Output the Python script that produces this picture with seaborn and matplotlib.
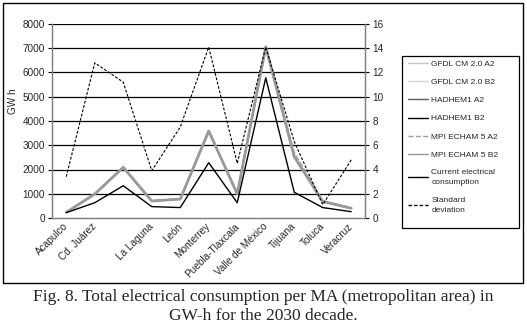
import matplotlib
matplotlib.use("Agg")
import matplotlib.pyplot as plt
import seaborn as sns
from matplotlib.patches import Rectangle
from matplotlib.lines import Line2D

sns.set_style("white")
plt.rcParams['font.family'] = ['Liberation Sans', 'DejaVu Sans']

# ---------------- data ----------------
cities = ["Acapulco", "Cd. Juárez", "", "La Laguna", "León", "Monterrey",
          "Puebla-Tlaxcala", "Valle de México", "Tijuana", "Toluca", "Veracruz"]

gfdl_a2 = [230, 990, 2090, 700, 780, 3590, 990, 7060, 2530, 680, 400]
gfdl_b2 = [225, 970, 2070, 690, 770, 3560, 980, 7000, 2600, 660, 390]
hadhem1_a2 = [235, 985, 2080, 705, 785, 3580, 1000, 7040, 2520, 690, 410]
hadhem1_b2 = [230, 980, 2085, 700, 780, 3585, 990, 7050, 2510, 680, 400]
mpi_a2 = [240, 1000, 2100, 710, 790, 3600, 1010, 7080, 2700, 720, 420]
mpi_b2 = [235, 990, 2090, 700, 780, 3590, 990, 7060, 2530, 680, 400]
current = [220, 630, 1330, 470, 430, 2280, 630, 5780, 1060, 430, 260]
std_dev = [3.4, 12.8, 11.2, 3.9, 7.5, 14.1, 4.5, 14.1, 6.3, 1.1, 4.8]

left_ticks = [0, 1000, 2000, 3000, 4000, 5000, 6000, 7000, 8000]
right_ticks = [0, 2, 4, 6, 8, 10, 12, 14, 16]

scenarios = [
    ("GFDL CM 2.0 A2", gfdl_a2, "#c4c4c4", "-", 1.0),
    ("GFDL CM 2.0 B2", gfdl_b2, "#d6d6d6", "-", 1.0),
    ("HADHEM1 A2", hadhem1_a2, "#606060", "-", 1.0),
    ("HADHEM1 B2", hadhem1_b2, "#000000", "-", 1.0),
    ("MPI ECHAM 5 A2", mpi_a2, "#a0a0a0", "--", 1.0),
    ("MPI ECHAM 5 B2", mpi_b2, "#9a9a9a", "-", 2.0),
]

W, H = 527, 332
fig = plt.figure(figsize=(W / 100, H / 100), dpi=100)
ax = fig.add_axes([52 / W, 1 - 218 / H, (365.5 - 52) / W, (218 - 24) / H])
ax2 = ax.twinx()

x = list(range(len(cities)))
handles = []
for name, vals, col, ls, lw in scenarios:
    sns.lineplot(x=x, y=vals, ax=ax, color=col, linestyle=ls, linewidth=lw,
                 legend=False, zorder=3)
    handles.append(Line2D([0], [0], color=col, linestyle=ls, linewidth=1.0))

sns.lineplot(x=x, y=current, ax=ax, color="black", linewidth=1.0,
             legend=False, zorder=4)
handles.append(Line2D([0], [0], color="black", linewidth=1.0))
sns.lineplot(x=x, y=std_dev, ax=ax2, color="black", linestyle=(0, (2.5, 1.5)),
             linewidth=0.8, legend=False)
handles.append(Line2D([0], [0], color="black", linestyle=(0, (2.5, 1.5)), linewidth=1.0))

labels = [s[0] for s in scenarios] + ["Current electrical\nconsumption", "Standard\ndeviation"]

ax.set_xlim(-0.5, len(cities) - 0.5)
ax.set_ylim(0, 8000)
ax2.set_ylim(0, 16)
ax.set_yticks(left_ticks)
ax.set_yticklabels([str(t) for t in left_ticks])
ax2.set_yticks(right_ticks)
ax2.set_yticklabels([str(t) for t in right_ticks])

ax.set_xticks(x)
ax.set_xticklabels(cities, rotation=45, ha="right", va="center",
                   rotation_mode="anchor", fontsize=7.2)
ax.set_xticks([i - 0.5 for i in range(len(cities) + 1)], minor=True)
ax.tick_params(axis="x", which="major", length=0, pad=5)
ax.tick_params(axis="x", which="minor", length=3, direction="out", color="black", width=0.8)
ax.tick_params(axis="y", length=3, direction="out", labelsize=7.2, pad=2, left=True, color="black")
ax2.tick_params(axis="y", length=3, direction="out", labelsize=7.2, pad=2, right=True, color="black")

ax.grid(False)
ax2.grid(False)
for t in left_ticks[1:]:
    ax.axhline(t, color="black", linewidth=0.9, zorder=1)

for a in (ax, ax2):
    a.spines["top"].set_visible(False)
    a.spines["left"].set_color("#808080")
    a.spines["right"].set_color("#808080")
    a.spines["bottom"].set_color("#808080")
    for s in a.spines.values():
        s.set_linewidth(0.9)
    a.set_facecolor("none")

ax.set_ylabel("GW h", fontsize=7.2, labelpad=3)
ax.yaxis.set_label_coords(-0.108, 0.6)

leg = fig.legend(handles, labels, loc="upper left",
                 bbox_to_anchor=(402 / W, 1 - 54 / H), bbox_transform=fig.transFigure,
                 fontsize=6, frameon=False,
                 handlelength=2.4, handletextpad=0.4, labelspacing=1.25,
                 borderpad=0.7, borderaxespad=0)
for t in leg.get_texts():
    t.set_linespacing(1.6)

# legend frame
fig.patches.append(Rectangle((402 / W, 1 - 228 / H), 117 / W, 172 / H,
                             transform=fig.transFigure, fill=False,
                             edgecolor="black", linewidth=0.9))
# outer frame
fig.patches.append(Rectangle((3 / W, 1 - 283 / H), 520 / W, 280 / H,
                             transform=fig.transFigure, fill=False,
                             edgecolor="black", linewidth=1.0))

fig.text(0.5, 1 - 297 / H, "Fig. 8. Total electrical consumption per MA (metropolitan area) in",
         ha="center", va="center", fontsize=12.5, family="Liberation Serif")
fig.text(0.5, 1 - 316 / H, "GW-h for the 2030 decade.",
         ha="center", va="center", fontsize=12.5, family="Liberation Serif")

fig.savefig("out.png", dpi=100)
